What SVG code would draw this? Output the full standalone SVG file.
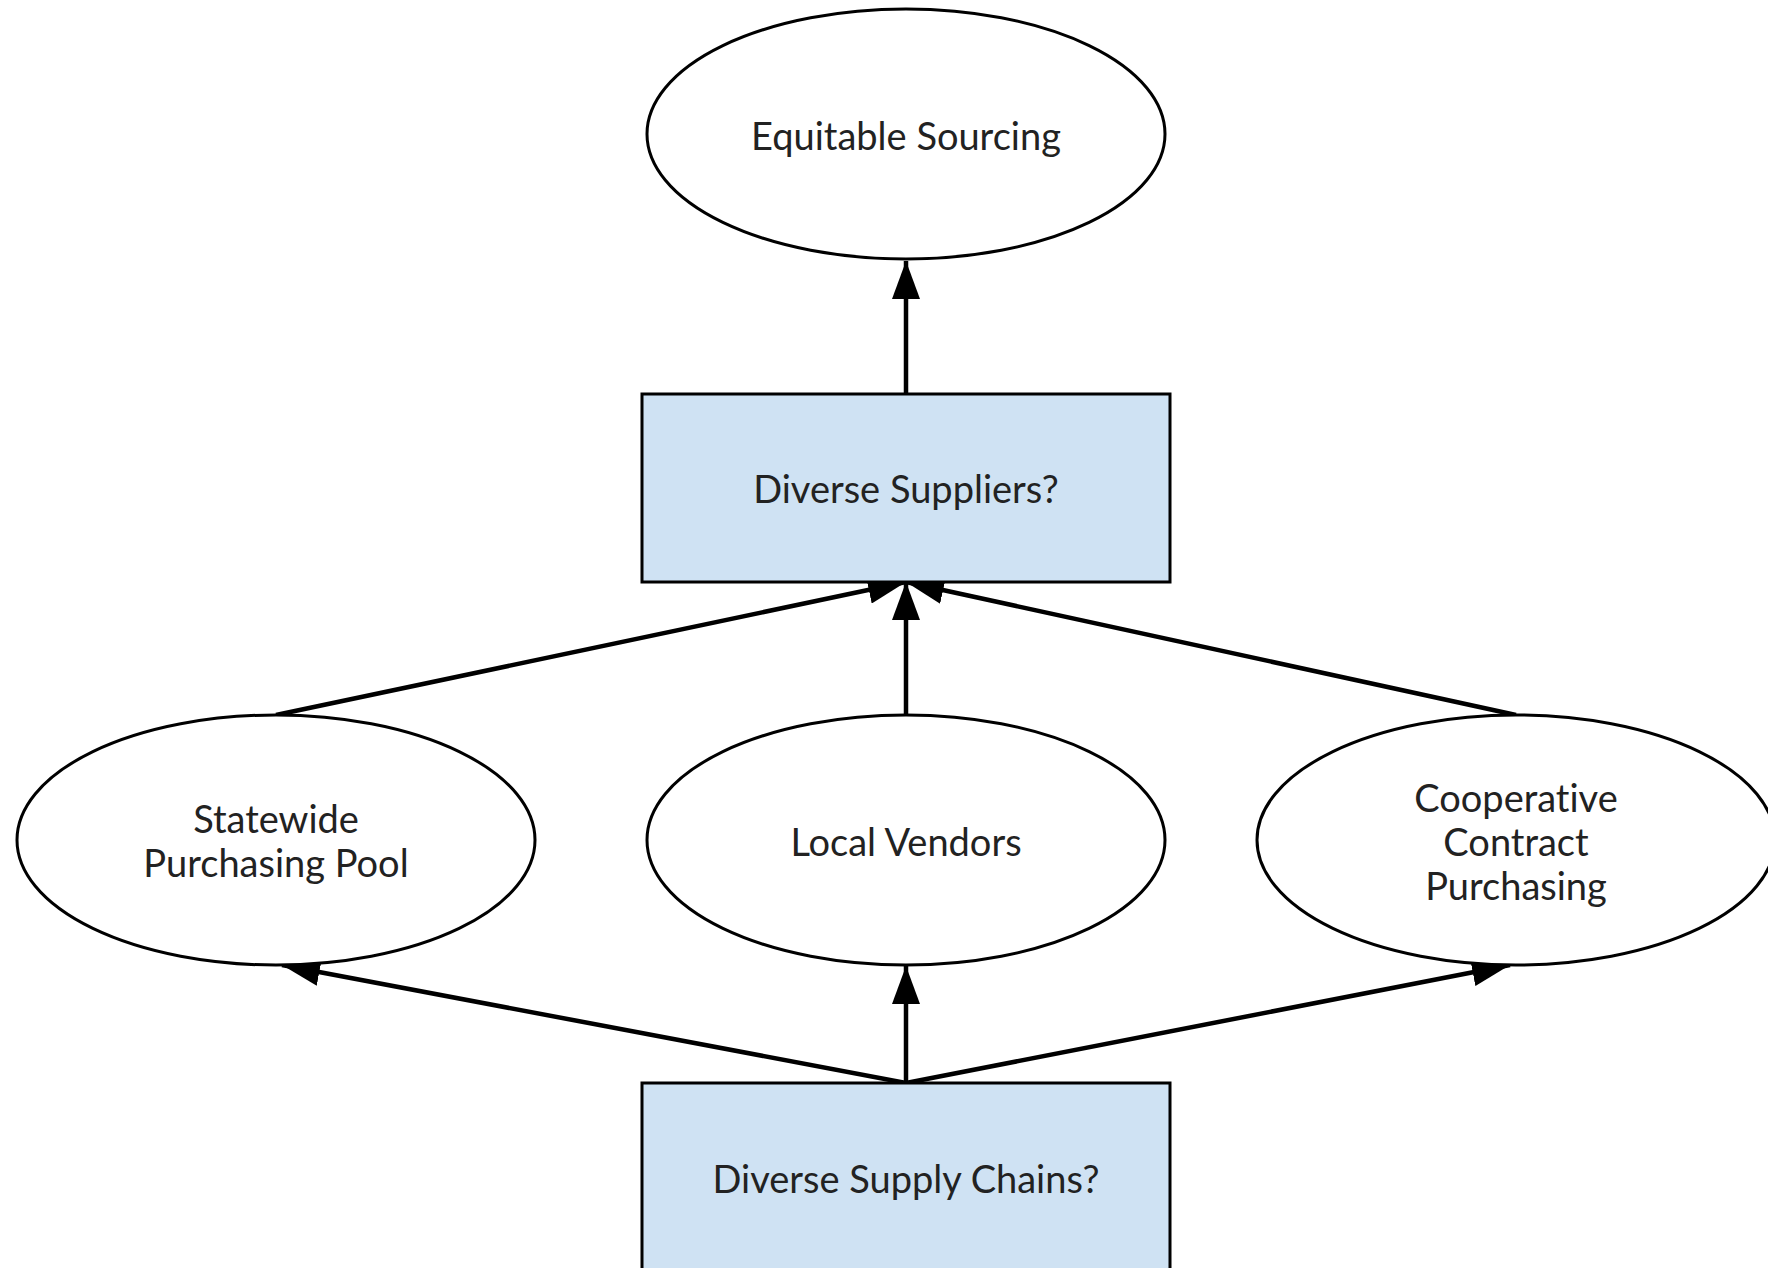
<svg xmlns="http://www.w3.org/2000/svg" width="1768" height="1268" viewBox="0 0 1768 1268">
<style>
.node{fill:#ffffff;stroke:#000000;stroke-width:3}
.box{fill:#cfe2f3;stroke:#000000;stroke-width:3}
.lbl{font-family:Lato,"Open Sans","Liberation Sans",sans-serif;font-size:38px;fill:#222222;text-anchor:middle;dominant-baseline:central;font-variant-ligatures:none}
.edge{stroke:#000000;stroke-width:4.5;fill:none;marker-end:url(#arrow)}
</style>
<defs>
<marker id="arrow" markerUnits="userSpaceOnUse" viewBox="0 0 38 28" refX="38" refY="14" markerWidth="38" markerHeight="28" orient="auto">
<path d="M0,0 L38,14 L0,28 z" fill="#000000"/>
</marker>
</defs>
<rect width="1768" height="1268" fill="#ffffff"/>
<g id="connectors">
<line class="edge" x1="906" y1="394" x2="906" y2="261"/>
<line class="edge" x1="276" y1="715" x2="906" y2="582"/>
<line class="edge" x1="906" y1="715" x2="906" y2="582"/>
<line class="edge" x1="1516" y1="715" x2="906" y2="582"/>
<line class="edge" x1="906" y1="1083" x2="282" y2="965"/>
<line class="edge" x1="906" y1="1083" x2="906" y2="966"/>
<line class="edge" x1="906" y1="1083" x2="1510" y2="965"/>
</g>
<g id="equitable-sourcing">
<ellipse class="node" cx="906" cy="134" rx="259" ry="125"/>
<text class="lbl" x="906" y="135">Equitable Sourcing</text>
</g>
<g id="diverse-suppliers">
<rect class="box" x="642" y="394" width="528" height="188"/>
<text class="lbl" x="906" y="488">Diverse Suppliers?</text>
</g>
<g id="statewide-purchasing-pool">
<ellipse class="node" cx="276" cy="840" rx="259" ry="125"/>
<text class="lbl" x="276" y="818">Statewide</text>
<text class="lbl" x="276" y="862">Purchasing Pool</text>
</g>
<g id="local-vendors">
<ellipse class="node" cx="906" cy="840" rx="259" ry="125"/>
<text class="lbl" x="906" y="841">Local Vendors</text>
</g>
<g id="cooperative-contract-purchasing">
<ellipse class="node" cx="1516" cy="840" rx="259" ry="125"/>
<text class="lbl" x="1516" y="797">Cooperative</text>
<text class="lbl" x="1516" y="841">Contract</text>
<text class="lbl" x="1516" y="885">Purchasing</text>
</g>
<g id="diverse-supply-chains">
<rect class="box" x="642" y="1083" width="528" height="200"/>
<text class="lbl" x="906" y="1178">Diverse Supply Chains?</text>
</g>
</svg>
